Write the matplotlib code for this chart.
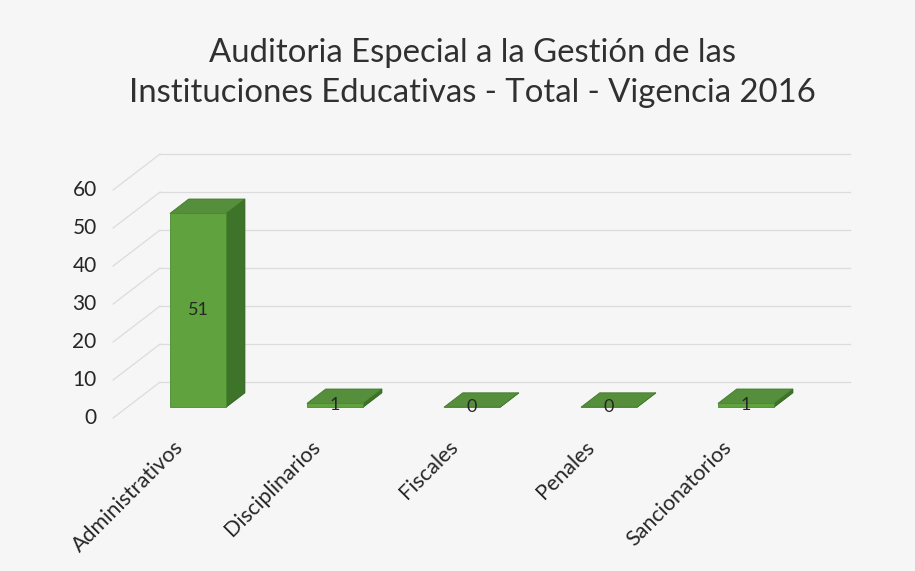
import numpy as np
import matplotlib.pyplot as plt
from matplotlib.patches import Polygon

# datos del grafico
categorias = ['Administrativos', 'Disciplinarios', 'Fiscales', 'Penales', 'Sancionatorios']
valores = [51, 1, 0, 0, 1]
ticks_y = [0, 10, 20, 30, 40, 50, 60]
titulo = 'Auditoria Especial a la Gestión de las\nInstituciones Educativas - Total - Vigencia 2016'

plt.rcParams['font.family'] = ['Lato', 'DejaVu Sans']

# falso 3D: desplazamiento por unidad de profundidad (unidades de datos)
DX = 0.343
DY = 9.47
d_frente = 0.30   # plano de la cara frontal de las barras
d_fondo = 0.70    # plano de la cara trasera
ancho = 0.205     # medio ancho de barra
x_pared = -0.517  # borde izquierdo (pared lateral)
x_fin = 4.52      # final de la pared del fondo


def proy(x, y, d):
    return x + DX*(d - d_frente), y + DY*(d - d_frente)


fig = plt.figure(figsize=(9.15, 5.71), dpi=100)
fig.patch.set_facecolor('#f6f6f6')
ax = fig.add_axes([0.0667, 0.2469, 0.8684, 0.5058])
ax.set_xlim(-1.0, 4.8)
ax.set_ylim(-6, 70)
ax.axis('off')

col_grid = '#dcdcdc'
for v in ticks_y:
    # pared lateral y pared del fondo
    p0 = proy(x_pared, v, 0)
    p1 = proy(x_pared, v, 1)
    p2 = proy(x_fin, v, 1)
    ax.plot([p0[0], p1[0]], [p0[1], p1[1]], color=col_grid, lw=0.9, clip_on=False, zorder=1)
    ax.plot([p1[0], p2[0]], [p1[1], p2[1]], color=col_grid, lw=0.9, clip_on=False, zorder=1)
    ax.text(p0[0] - 0.12, p0[1], str(v), ha='right', va='center', fontsize=15, color='#262626')

# barras
c_frente = '#60a23d'
c_lado = '#3e742a'
c_arriba = '#558f3c'
for i, v in enumerate(valores):
    a, b = i - ancho, i + ancho
    lado = [proy(b, 0, d_frente), proy(b, 0, d_fondo), proy(b, v, d_fondo), proy(b, v, d_frente)]
    arriba = [proy(a, v, d_frente), proy(b, v, d_frente), proy(b, v, d_fondo), proy(a, v, d_fondo)]
    frente = [proy(a, 0, d_frente), proy(b, 0, d_frente), proy(b, v, d_frente), proy(a, v, d_frente)]
    ax.add_patch(Polygon(lado, closed=True, facecolor=c_lado, edgecolor='#2f5e1e', lw=0.6, zorder=3))
    ax.add_patch(Polygon(arriba, closed=True, facecolor=c_arriba, edgecolor='#3f7a28', lw=0.6, zorder=3))
    ax.add_patch(Polygon(frente, closed=True, facecolor=c_frente, edgecolor='#4a8a30', lw=0.6, zorder=4))
    ax.text(i, v/2, str(v), ha='center', va='center', fontsize=13, color='#262626', zorder=5)

# etiquetas de categorias
for i, c in enumerate(categorias):
    ax.text(i - 0.18, -7.8, c, rotation=45, ha='right', va='top', rotation_mode='anchor',
            fontsize=15.5, color='#262626')

fig.text(0.516, 0.872, titulo, ha='center', va='center', fontsize=23.7,
         color='#303030', linespacing=1.45)

fig.savefig('out.png', dpi=100, facecolor=fig.get_facecolor())
